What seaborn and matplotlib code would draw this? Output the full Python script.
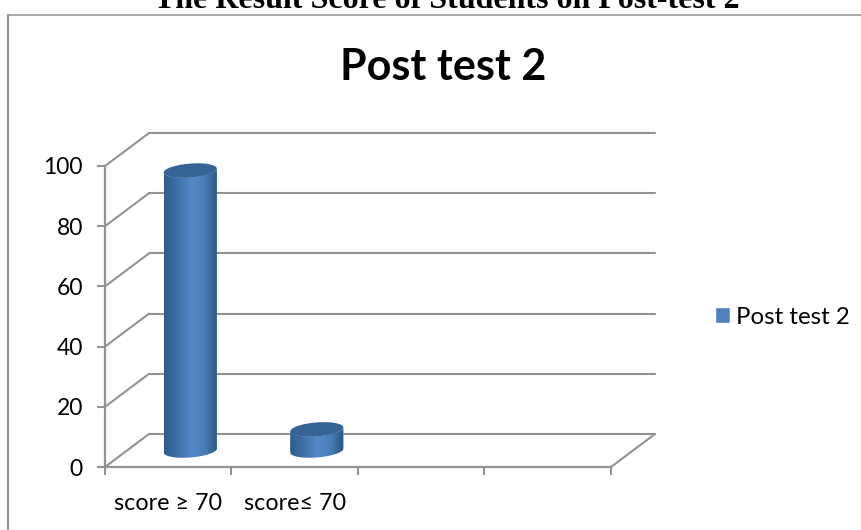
import matplotlib
matplotlib.use("Agg")
import matplotlib.pyplot as plt
import numpy as np
import seaborn as sns
from matplotlib.colors import LinearSegmentedColormap
from matplotlib.lines import Line2D
from matplotlib.path import Path

categories = ["score ≥ 70", "score≤ 70"]
scores = [93, 7]
y_ticks = [0, 20, 40, 60, 80, 100]
series_name = "Post test 2"
main_title = "The Result Score of Students on Post-test 2"

W, H = 862, 530
GREY = "#929292"
BLUE = "#4f81bd"

# front plane of the fake 3d box, in pixels
LEFT, RIGHT, TOP, BOTTOM = 105, 611, 166, 467
DX, DY = 44, 33


def make_axes(fig, shift_x=0, shift_y=0):
    ax = fig.add_axes([(LEFT + shift_x) / W, 1 - (BOTTOM - shift_y) / H,
                       (RIGHT - LEFT) / W, (BOTTOM - TOP) / H])
    ax.set_xlim(-0.5, 3.5)
    ax.set_ylim(0, 100)
    ax.patch.set_alpha(0)
    return ax


def cylinder(fig, ax, bar, x, value, width=0.42):
    # shape of the side of the cylinder plus its top cap
    t = np.linspace(np.pi, 2 * np.pi, 60)
    half_h = 7 / (BOTTOM - TOP) * 100
    shear = 2 / (BOTTOM - TOP) * 100
    arc_x = x + width / 2 * np.cos(t)
    arc_y = half_h * np.sin(t) + shear * np.cos(t)
    side = np.column_stack([np.r_[arc_x, arc_x[::-1]],
                            np.r_[arc_y, (arc_y + value)[::-1]]])
    clip = Path(np.vstack([side, side[:1]]))
    bar.set_clip_path(clip, ax.transData)
    shade = LinearSegmentedColormap.from_list(
        "cyl", ["#2f5c8f", "#3f70a8", "#5588c8", "#4a7db8", "#2b5583"])
    img = ax.imshow(np.linspace(0, 1, 100).reshape(1, -1), cmap=shade, aspect="auto",
                    extent=(x - width / 2, x + width / 2, -half_h * 1.2, value + half_h),
                    zorder=3)
    # the bottom of the cylinder hangs below y=0 so the axes box must not clip it
    img.set_clip_box(fig.bbox)
    img.set_clip_path(clip, ax.transData)
    # top cap
    t2 = np.linspace(0, 2 * np.pi, 100)
    ax.fill(x + width / 2 * np.cos(t2),
            value + half_h * np.sin(t2) + shear * np.cos(t2),
            color="#376394", lw=0, zorder=4, clip_on=False)


sns.set_style("white")
plt.rcParams["font.family"] = ["Lato", "DejaVu Sans"]
plt.rcParams["text.color"] = "black"

fig = plt.figure(figsize=(W / 100, H / 100), dpi=100)

# outer chart frame, only left and top show up in the picture
fig.add_artist(Line2D([8.5 / W, 8.5 / W], [0, 1 - 14.5 / H], color=GREY, lw=1.5))
fig.add_artist(Line2D([8 / W, 1], [1 - 14.5 / H, 1 - 14.5 / H], color=GREY, lw=1.1))

# the source picture cuts this title off at the top edge
fig.text(446.5 / W, 1 - 7.5 / H, main_title, family="Liberation Serif", weight="bold",
         fontsize=23, ha="center", va="baseline")
fig.text(443 / W, 1 - 80 / H, series_name, weight="bold", fontsize=31,
         ha="center", va="baseline")

# back wall with the gridlines
ax_back = make_axes(fig, DX, DY)
ax_back.set_yticks(y_ticks)
ax_back.grid(axis="y", color=GREY, lw=1.5)
for line in ax_back.get_ygridlines():
    line.set_clip_on(False)
ax_back.set_xticks([])
ax_back.tick_params(left=False, labelleft=False)
sns.despine(ax=ax_back, left=True, bottom=True)

# bars sit half way into the box
ax_bars = make_axes(fig, DX / 2, DY / 2)
sns.barplot(x=categories, y=scores, color=BLUE, saturation=1, width=0.42,
            label=series_name, legend=True, ax=ax_bars)
handles, labels = ax_bars.get_legend_handles_labels()
if ax_bars.get_legend():
    ax_bars.get_legend().remove()
for i, (bar, v) in enumerate(zip(ax_bars.containers[0], scores)):
    cylinder(fig, ax_bars, bar, i, v)
ax_bars.set_xlim(-0.5, 3.5)
ax_bars.set_ylim(0, 100)
ax_bars.axis("off")

# front axes with the ticks and labels
ax = make_axes(fig)
ax.set_yticks(y_ticks)
ax.tick_params(axis="y", length=6, width=1.5, color=GREY, left=True, labelsize=16.5,
               pad=10, labelcolor="black")
ax.set_xticks(range(len(categories)))
ax.set_xticklabels(categories)
ax.tick_params(axis="x", which="major", length=0, labelsize=16.8, pad=18.5, labelcolor="black")
ax.set_xticks(np.arange(-0.5, 4), minor=True)
ax.tick_params(axis="x", which="minor", length=6, width=1.5, color=GREY, bottom=True)
for side in ["left", "bottom"]:
    ax.spines[side].set_color(GREY)
    ax.spines[side].set_linewidth(1.6)
sns.despine(ax=ax)

# slanted floor and wall edges
dx_data = DX / (RIGHT - LEFT) * 4
dy_data = DY / (BOTTOM - TOP) * 100
for v in y_ticks:
    ax.plot([-0.5, -0.5 + dx_data], [v, v + dy_data], color=GREY, lw=1.5, clip_on=False)
ax.plot([3.5, 3.5 + dx_data], [0, dy_data], color=GREY, lw=1.5, clip_on=False)

fig.legend(handles, labels, loc="center left", bbox_to_anchor=(715 / W, 1 - 317 / H),
           frameon=False, fontsize=17.3, handlelength=0.625, handleheight=0.625,
           handletextpad=0.25, borderpad=0, borderaxespad=0)

fig.savefig("out.png", dpi=100)
